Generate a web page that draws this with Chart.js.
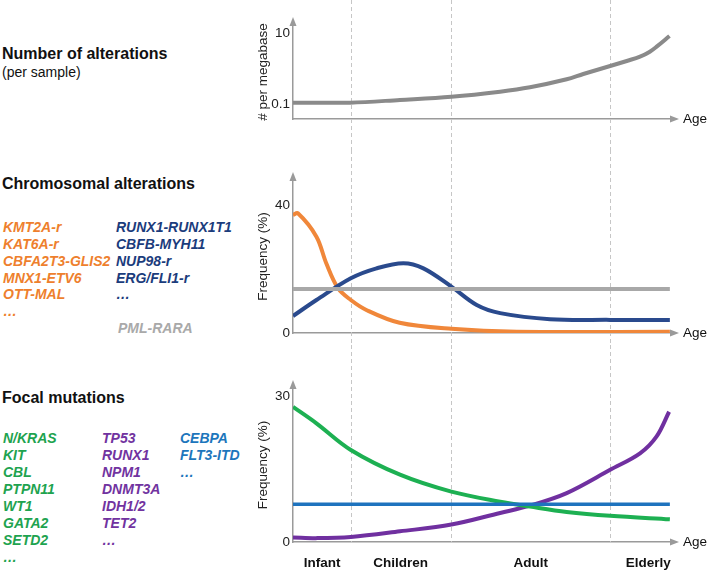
<!DOCTYPE html>
<html><head><meta charset="utf-8">
<script src="https://cdn.jsdelivr.net/npm/chart.js@4"></script>
<style>
html,body{margin:0;padding:0;background:#fff;}
body{width:709px;height:572px;position:relative;overflow:hidden;font-family:"Liberation Sans",Arial,sans-serif;}
.t{position:absolute;white-space:nowrap;line-height:1;}
.wrap{position:absolute;left:240px;width:469px;}
canvas{display:block;}
</style></head><body>
<div class="wrap" style="top:0;height:150px"><canvas id="c1" width="469" height="150"></canvas></div>
<div class="wrap" style="top:150px;height:195px"><canvas id="c2" width="469" height="195"></canvas></div>
<div class="wrap" style="top:345px;height:227px"><canvas id="c3" width="469" height="227"></canvas></div>
<script>
// ---------- data ----------
const ageCategories = ['Infant', 'Children', 'Adult', 'Elderly'];
const agePositions = [7.7, 28.5, 62.9, 94.0];
const boundaryPositions = [15.3, 41.8, 83.9];

const altX = [0, 15.1, 28.3, 41.9, 54.8, 62.7, 72.4, 76.8, 83.9, 88.3, 91.8, 94.4, 96.2, 99.6];
const altPerMb = [0.109, 0.109, 0.130, 0.160, 0.222, 0.295, 0.496, 0.70, 1.175, 1.63, 2.15, 2.98, 4.12, 8.23];
const altTicks = [0.1, 10];
const altTickLabels = ['0.1', '10'];

const chromOrangeX = [0, 1.3, 6.2, 8.8, 11.9, 15.3, 19.4, 28.2, 41.9, 59.2, 99.7];
const chromOrangeY = [36.9, 37.4, 30.1, 21.8, 14.0, 10.3, 7.2, 3.2, 1.3, 0.4, 0.4];
const chromBlueX = [0, 6.2, 15.3, 22.1, 29.2, 34.5, 41.9, 48.6, 54.8, 68.0, 83.9, 99.7];
const chromBlueY = [5.3, 10.3, 17.1, 20.2, 21.8, 20.2, 14.5, 8.75, 6.2, 4.3, 4.1, 4.1];
const chromGrayX = [0, 99.7];
const chromGrayY = [13.75, 13.75];
const chromTicks = [0, 40];

const focalGreenX = [0, 6.2, 15.3, 28.3, 41.9, 54.8, 62.7, 72.4, 83.9, 99.7];
const focalGreenY = [27.9, 24.5, 19.0, 13.9, 10.4, 8.3, 7.3, 6.2, 5.4, 4.7];
const focalPurpleX = [0, 6.2, 15.3, 28.3, 41.9, 54.8, 62.7, 72.4, 83.9, 91.8, 96.2, 99.5];
const focalPurpleY = [0.95, 0.8, 1.03, 2.2, 3.6, 6.0, 7.5, 10.1, 14.9, 18.3, 21.8, 26.9];
const focalBlueX = [0, 99.7];
const focalBlueY = [7.8, 7.8];
const focalTicks = [0, 30];

const chromOrangeGenes = ['KMT2A-r', 'KAT6A-r', 'CBFA2T3-GLIS2', 'MNX1-ETV6', 'OTT-MAL', '\u2026'];
const chromBlueGenes = ['RUNX1-RUNX1T1', 'CBFB-MYH11', 'NUP98-r', 'ERG/FLI1-r', '\u2026'];
const chromGrayGenes = ['PML-RARA'];
const focalGreenGenes = ['N/KRAS', 'KIT', 'CBL', 'PTPN11', 'WT1', 'GATA2', 'SETD2', '\u2026'];
const focalPurpleGenes = ['TP53', 'RUNX1', 'NPM1', 'DNMT3A', 'IDH1/2', 'TET2', '\u2026'];
const focalBlueGenes = ['CEBPA', 'FLT3-ITD', '\u2026'];

// ---------- left text ----------
const FONT = '"Liberation Sans", Arial, sans-serif';
function addText(txt, x, baseline, size, weight, style, color) {
  const d = document.createElement('div');
  d.className = 't';
  d.textContent = txt;
  d.style.left = x + 'px';
  d.style.top = (baseline - 0.8465 * size) + 'px';
  d.style.fontSize = size + 'px';
  d.style.fontWeight = weight;
  d.style.fontStyle = style;
  d.style.color = color;
  document.body.appendChild(d);
}
const ORANGE = '#EE7F2D', NAVY = '#1B3C7C', GRAY = '#A9A9A9', GREEN = '#1EA34F', PURPLE = '#7133A0', BLUE = '#1D76BC';
addText('Number of alterations', 2, 60, 16, 'bold', 'normal', '#111');
addText('(per sample)', 2, 77.3, 14, 'normal', 'normal', '#111');
addText('Chromosomal alterations', 2, 189.3, 16, 'bold', 'normal', '#111');
addText('Focal mutations', 2, 403.3, 16, 'bold', 'normal', '#111');
const LH = 16.9;
chromOrangeGenes.forEach((g, i) => addText(g, 3, 231.7 + LH * i, 14, 'bold', 'italic', ORANGE));
chromBlueGenes.forEach((g, i) => addText(g, 116, 231.7 + LH * i, 14, 'bold', 'italic', NAVY));
chromGrayGenes.forEach((g, i) => addText(g, 118, 231.7 + LH * 6, 14, 'bold', 'italic', GRAY));
focalGreenGenes.forEach((g, i) => addText(g, 3, 443.3 + LH * i, 14, 'bold', 'italic', GREEN));
focalPurpleGenes.forEach((g, i) => addText(g, 102, 443.3 + LH * i, 14, 'bold', 'italic', PURPLE));
focalBlueGenes.forEach((g, i) => addText(g, 180, 443.3 + LH * i, 14, 'bold', 'italic', BLUE));

// ---------- charts ----------
const AXIS = '#9a9a9a';
const pts = (xs, ys) => xs.map((x, i) => ({x: x, y: ys[i]}));

const guidePlugin = {
  id: 'guides',
  beforeDatasetsDraw(chart, args, opts) {
    const {ctx, chartArea, scales} = chart;
    const x = scales.x;
    ctx.save();
    ctx.strokeStyle = '#c6c6c6';
    ctx.lineWidth = 1;
    ctx.setLineDash([4, 3]);
    const bottom = opts.toAxis ? chartArea.bottom : chart.height;
    boundaryPositions.forEach(v => {
      const px = Math.round(x.getPixelForValue(v)) + 0.5;
      ctx.beginPath(); ctx.moveTo(px, 0); ctx.lineTo(px, bottom); ctx.stroke();
    });
    ctx.restore();
  },
  afterDraw(chart) {
    const {ctx, chartArea} = chart;
    ctx.save();
    ctx.fillStyle = AXIS;
    const l = chartArea.left, t = chartArea.top, r = chartArea.right, b = chartArea.bottom;
    ctx.beginPath(); ctx.moveTo(l - 3.5, t + 1); ctx.lineTo(l + 3.5, t + 1); ctx.lineTo(l, t - 8); ctx.closePath(); ctx.fill();
    ctx.beginPath(); ctx.moveTo(r - 1, b - 3.5); ctx.lineTo(r - 1, b + 3.5); ctx.lineTo(r + 8, b); ctx.closePath(); ctx.fill();
    ctx.fillStyle = '#111';
    ctx.font = '13.5px ' + FONT;
    ctx.textBaseline = 'middle';
    ctx.textAlign = 'left';
    ctx.fillText('Age', r + 12, b);
    ctx.restore();
  }
};

function lineDs(data, color, width) {
  return {data: data, borderColor: color, borderWidth: width, pointRadius: 0, fill: false,
    tension: 0.35, borderCapStyle: 'butt'};
}

function makeChart(id, opts) {
  const xScale = {
    type: 'linear', min: 0, max: 100,
    grid: {display: false, drawTicks: false},
    border: {display: true, color: AXIS, width: 1.5},
    ticks: {display: false},
    afterFit: s => { s.height = opts.xHeight; }
  };
  if (opts.xLabels) {
    xScale.ticks = {display: true, autoSkip: false, maxRotation: 0, padding: 13, color: '#111',
      font: {family: FONT, size: 13.5, weight: 'bold'},
      callback: (v, i) => ageCategories[i]};
    xScale.afterBuildTicks = s => { s.ticks = agePositions.map(v => ({value: v})); };
  }
  const yScale = {
    type: opts.yType, min: opts.yMin, max: opts.yMax,
    grid: {display: false, drawTicks: false},
    border: {display: true, color: AXIS, width: 1.5},
    title: {display: true, text: opts.yTitle, color: '#222', font: {family: FONT, size: 13.5}, padding: {top: 15, bottom: 0}},
    ticks: {color: '#222', padding: 3, font: {family: FONT, size: 13.5},
      callback: (v, i) => opts.yLabels[i]},
    afterBuildTicks: s => { s.ticks = opts.yTicks.map(v => ({value: v})); },
    afterFit: s => { s.width = 53; }
  };
  return new Chart(document.getElementById(id), {
    type: 'line',
    data: {datasets: opts.datasets},
    options: {
      responsive: false, animation: false, devicePixelRatio: 1,
      layout: {padding: {top: opts.padTop, right: 38, left: 0, bottom: 0}},
      plugins: {legend: {display: false}, tooltip: {enabled: false}, guides: {toAxis: !!opts.xLabels}},
      scales: {x: xScale, y: yScale}
    },
    plugins: [guidePlugin]
  });
}

makeChart('c1', {
  yType: 'logarithmic', yMin: 0.0378, yMax: 16.8, yTicks: altTicks, yLabels: altTickLabels,
  yTitle: '# per megabase', padTop: 25, xHeight: 31,
  datasets: [lineDs(pts(altX, altPerMb), '#8a8a8a', 4)]
});
makeChart('c2', {
  yType: 'linear', yMin: 0, yMax: 47.8, yTicks: chromTicks, yLabels: chromTicks.map(String),
  yTitle: 'Frequency (%)', padTop: 30, xHeight: 12,
  datasets: [
    lineDs(pts(chromGrayX, chromGrayY), '#A8A8A8', 4),
    lineDs(pts(chromBlueX, chromBlueY), '#2A4A8D', 4),
    lineDs(pts(chromOrangeX, chromOrangeY), '#F0873A', 4)
  ]
});
makeChart('c3', {
  yType: 'linear', yMin: 0, yMax: 31.8, yTicks: focalTicks, yLabels: focalTicks.map(String),
  yTitle: 'Frequency (%)', padTop: 43, xHeight: 30, xLabels: true,
  datasets: [
    lineDs(pts(focalBlueX, focalBlueY), '#1E73BE', 3.5),
    lineDs(pts(focalGreenX, focalGreenY), '#1DB052', 4),
    lineDs(pts(focalPurpleX, focalPurpleY), '#7030A0', 4)
  ]
});
</script>
</body></html>
